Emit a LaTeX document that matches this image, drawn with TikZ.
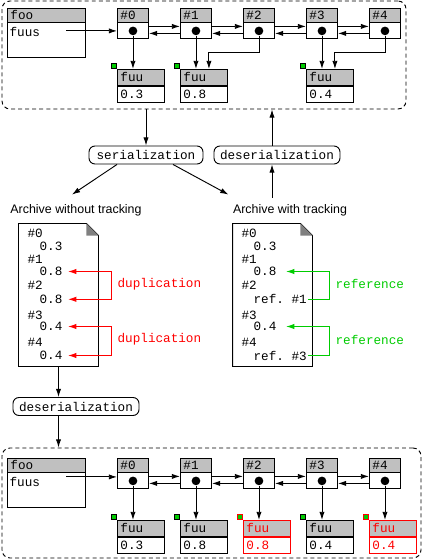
\documentclass[tikz,border=0pt]{standalone}
\usepackage{fontspec}
\setmainfont{Liberation Sans}
\setmonofont{Liberation Mono}
\usepackage{tikz}
\usetikzlibrary{shapes,arrows,arrows.meta,calc,positioning}
\definecolor{hdrgray}{RGB}{192,192,192}
\definecolor{refgreen}{RGB}{0,204,0}
\definecolor{dupred}{RGB}{255,0,0}
\tikzstyle{arrow} = [draw, -{Latex[length=7pt,width=4.5pt]}]
\tikzstyle{mono} = [font=\fontsize{10.8}{13}\selectfont\ttfamily]
\tikzstyle{panel} = [draw, dash pattern=on 3.4pt off 2.6pt, rounded corners=0.24cm, inner sep=0pt]
\tikzstyle{cellhead} = [mono, draw, fill=hdrgray, anchor=north west, text width=0.75cm, align=left, inner xsep=0.09cm, inner ysep=0pt, minimum height=0.42cm]
\tikzstyle{cellbody} = [draw, fill=white, minimum width=0.93cm, minimum height=0.48cm, inner sep=0pt]
\tikzstyle{foohead} = [cellhead, text width=2.16cm]
\tikzstyle{foobody} = [draw, fill=white, minimum width=2.34cm, minimum height=1.05cm, inner sep=0pt]
\tikzstyle{fuuhead} = [cellhead, text width=1.23cm, minimum height=0.48cm]
\tikzstyle{fuubody} = [fuuhead, fill=white]
\tikzstyle{bullet} = [circle, fill=black, minimum size=0.26cm, inner sep=0pt]
\tikzstyle{flagbox} = [draw, fill=refgreen, minimum size=0.15cm, inner sep=0pt, anchor=south east]
\tikzstyle{dupbox} = [draw=dupred, text=dupred]
\tikzstyle{stage} = [mono, draw, rounded corners=0.18cm, minimum height=0.54cm, inner sep=0pt]
\tikzstyle{docpage} = [minimum width=2.37cm, minimum height=4.26cm, inner sep=0pt]
\tikzstyle{docline} = [mono, anchor=west, inner sep=1pt]
\tikzstyle{archlabel} = [font=\fontsize{10.6}{12}\selectfont, inner sep=1pt]
\tikzstyle{dupline} = [draw=dupred, {Latex[length=7pt,width=4.5pt]}-{Latex[length=7pt,width=4.5pt]}]
\tikzstyle{refline} = [draw=refgreen, -{Latex[length=7pt,width=4.5pt]}]
\tikzstyle{note} = [mono, anchor=west, inner sep=1pt]

\begin{document}
\begin{tikzpicture}[x=0.03cm, y=-0.03cm, line width=0.8pt]
      \useasboundingbox (0,0) rectangle (424,559);

      % objects before serialization
      \node[panel, minimum width=12.12cm, minimum height=3.24cm] (panelA) at (204,55) {};
      \node[foohead] (fooAh) at (7,7.5) {foo};
      \node[foobody, below=0pt of fooAh] (fooA) {};
      \node[docline] (fuusA) at (8,32) {fuus};

      \node[cellhead] (tAh0) at (117,7.5) {\#0};
      \node[cellbody, below=0pt of tAh0] (tA0) {};
      \node[bullet] (dA0) at (tA0) {};
      \node[cellhead] (tAh1) at (180,7.5) {\#1};
      \node[cellbody, below=0pt of tAh1] (tA1) {};
      \node[bullet] (dA1) at (tA1) {};
      \node[cellhead] (tAh2) at (243,7.5) {\#2};
      \node[cellbody, below=0pt of tAh2] (tA2) {};
      \node[bullet] (dA2) at (tA2) {};
      \node[cellhead] (tAh3) at (306,7.5) {\#3};
      \node[cellbody, below=0pt of tAh3] (tA3) {};
      \node[bullet] (dA3) at (tA3) {};
      \node[cellhead] (tAh4) at (369,7.5) {\#4};
      \node[cellbody, below=0pt of tAh4] (tA4) {};
      \node[bullet] (dA4) at (tA4) {};

      \node[fuuhead] (fAh0) at (117,69) {fuu};
      \node[fuubody, below=0pt of fAh0] (fA0) {0.3};
      \node[flagbox] (gA0) at (fAh0.north west) {};
      \node[fuuhead] (fAh1) at (180,69) {fuu};
      \node[fuubody, below=0pt of fAh1] (fA1) {0.8};
      \node[flagbox] (gA1) at (fAh1.north west) {};
      \node[fuuhead] (fAh2) at (306,69) {fuu};
      \node[fuubody, below=0pt of fAh2] (fA2) {0.4};
      \node[flagbox] (gA2) at (fAh2.north west) {};

      \draw[arrow] ($(fooA.north west |- tA0)+(59,0)$) -- (tA0);
      \draw[arrow] ($(tA0.east)+(0,-4.5)$) -- ($(tA1.west)+(0,-4.5)$);
      \draw[arrow] ($(tA1.west)+(0,2.5)$) -- ($(tA0.east)+(0,2.5)$);
      \draw[arrow] ($(tA1.east)+(0,-4.5)$) -- ($(tA2.west)+(0,-4.5)$);
      \draw[arrow] ($(tA2.west)+(0,2.5)$) -- ($(tA1.east)+(0,2.5)$);
      \draw[arrow] ($(tA2.east)+(0,-4.5)$) -- ($(tA3.west)+(0,-4.5)$);
      \draw[arrow] ($(tA3.west)+(0,2.5)$) -- ($(tA2.east)+(0,2.5)$);
      \draw[arrow] ($(tA3.east)+(0,-4.5)$) -- ($(tA4.west)+(0,-4.5)$);
      \draw[arrow] ($(tA4.west)+(0,2.5)$) -- ($(tA3.east)+(0,2.5)$);

      \draw[arrow] (dA0) -- (dA0 |- fAh0.north);
      \draw[arrow] (dA1) -- (dA1 |- fAh1.north);
      \draw[arrow] (dA2) -- ++(0,22) -| ($(fAh1.north east)+(-19,0)$);
      \draw[arrow] (dA3) -- (dA3 |- fAh2.north);
      \draw[arrow] (dA4) -- ++(0,22) -| ($(fAh2.north east)+(-19,0)$);

      % serialization / deserialization
      \node[stage, minimum width=3.42cm] (ser) at (146,155) {serialization};
      \node[stage, minimum width=3.78cm] (desA) at (277,155) {deserialization};
      \node[archlabel] (archA) at (76,210) {Archive without tracking};
      \node[archlabel] (archB) at (290,210) {Archive with tracking};

      \draw[arrow] (ser |- panelA.south) -- (ser);
      \draw[arrow] ($(desA.north)+(-5,0)$) -- ($(desA.north |- panelA.south)+(-5,0)$);
      \draw[arrow] ($(desA.south |- archB.north)+(-5,-5)$) -- ($(desA.south)+(-5,0)$);
      \draw[arrow] ($(ser.south)+(-29,0)$) -- ($(archA.north)+(-4,-8)$);
      \draw[arrow] ($(ser.south)+(27,0)$) -- ($(archB.north west)+(-3,-8)$);

      % archive without tracking
      \node[docpage] (docA) at (58.5,295) {};
      \draw (docA.north west) -- ($(docA.north east)+(-12,0)$) -- ($(docA.north east)+(0,12)$) -- (docA.south east) -- (docA.south west) -- cycle;
      \fill[gray] ($(docA.north east)+(-12,0)$) -- ($(docA.north east)+(-12,12)$) -- ($(docA.north east)+(0,12)$) -- cycle;
      \node[docline] (a0) at (26,233.5) {\#0};
      \node[docline] (a0v) at (38,246.5) {0.3};
      \node[docline] (a1) at (26,259) {\#1};
      \node[docline] (a1v) at (38,271.5) {0.8};
      \node[docline] (a2) at (26,285) {\#2};
      \node[docline] (a2v) at (38,299.3) {0.8};
      \node[docline] (a3) at (26,315) {\#3};
      \node[docline] (a3v) at (38,326.5) {0.4};
      \node[docline] (a4) at (26,342.5) {\#4};
      \node[docline] (a4v) at (38,355.5) {0.4};

      \coordinate (dupx) at (111,0);
      \draw[dupline] ($(a1v.east)+(4,0)$) -- (dupx |- a1v) -- (dupx |- a2v) -- ($(a2v.east)+(4,0)$);
      \draw[dupline] ($(a3v.east)+(4,0)$) -- (dupx |- a3v) -- (dupx |- a4v) -- ($(a4v.east)+(4,0)$);
      \node[note, text=dupred] (dupA) at ($(dupx |- a1v)!0.5!(dupx |- a2v)+(5,-1.5)$) {duplication};
      \node[note, text=dupred] (dupB) at ($(dupx |- a3v)!0.5!(dupx |- a4v)+(5,-2)$) {duplication};

      % archive with tracking
      \node[docpage] (docB) at (272.5,295) {};
      \draw (docB.north west) -- ($(docB.north east)+(-12,0)$) -- ($(docB.north east)+(0,12)$) -- (docB.south east) -- (docB.south west) -- cycle;
      \fill[gray] ($(docB.north east)+(-12,0)$) -- ($(docB.north east)+(-12,12)$) -- ($(docB.north east)+(0,12)$) -- cycle;
      \node[docline] (b0) at (240,233.5) {\#0};
      \node[docline] (b0v) at (252,246.5) {0.3};
      \node[docline] (b1) at (240,259) {\#1};
      \node[docline] (b1v) at (252,271.5) {0.8};
      \node[docline] (b2) at (240,285) {\#2};
      \node[docline] (b2v) at (252,299.3) {ref. \#1};
      \node[docline] (b3) at (240,315) {\#3};
      \node[docline] (b3v) at (252,326.5) {0.4};
      \node[docline] (b4) at (240,342.5) {\#4};
      \node[docline] (b4v) at (252,355.5) {ref. \#3};

      \coordinate (refx) at (329,0);
      \draw[refline] (b2v.east) -- (refx |- b2v) -- (refx |- b1v) -- ($(b1v.east)+(8,0)$);
      \draw[refline] (b4v.east) -- (refx |- b4v) -- (refx |- b3v) -- ($(b3v.east)+(8,0)$);
      \node[note, text=refgreen] (refA) at ($(refx |- b1v)!0.5!(refx |- b2v)+(5,-1.5)$) {reference};
      \node[note, text=refgreen] (refB) at ($(refx |- b3v)!0.5!(refx |- b4v)+(5,-1.5)$) {reference};

      % loading the archive without tracking
      \node[stage, minimum width=3.78cm] (desB) at (76,406.5) {deserialization};
      \node[panel, minimum width=12.57cm, minimum height=3.3cm] (panelB) at (211.5,503) {};
      \draw[arrow] (docA.south) -- (docA.south |- desB.north);
      \draw[arrow] (docA.south |- desB.south) -- (docA.south |- panelB.north);

      \node[foohead] (fooBh) at (7,457.5) {foo};
      \node[foobody, below=0pt of fooBh] (fooB) {};
      \node[docline] (fuusB) at (8,482) {fuus};

      \node[cellhead] (tBh0) at (117,457.5) {\#0};
      \node[cellbody, below=0pt of tBh0] (tB0) {};
      \node[bullet] (dB0) at (tB0) {};
      \node[cellhead] (tBh1) at (180,457.5) {\#1};
      \node[cellbody, below=0pt of tBh1] (tB1) {};
      \node[bullet] (dB1) at (tB1) {};
      \node[cellhead] (tBh2) at (243,457.5) {\#2};
      \node[cellbody, below=0pt of tBh2] (tB2) {};
      \node[bullet] (dB2) at (tB2) {};
      \node[cellhead] (tBh3) at (306,457.5) {\#3};
      \node[cellbody, below=0pt of tBh3] (tB3) {};
      \node[bullet] (dB3) at (tB3) {};
      \node[cellhead] (tBh4) at (369,457.5) {\#4};
      \node[cellbody, below=0pt of tBh4] (tB4) {};
      \node[bullet] (dB4) at (tB4) {};

      \node[fuuhead] (fBh0) at (117,520) {fuu};
      \node[fuubody, below=0pt of fBh0] (fB0) {0.3};
      \node[flagbox] (gB0) at (fBh0.north west) {};
      \node[fuuhead] (fBh1) at (180,520) {fuu};
      \node[fuubody, below=0pt of fBh1] (fB1) {0.8};
      \node[flagbox] (gB1) at (fBh1.north west) {};
      \node[fuuhead, dupbox] (fBh2) at (243,520) {fuu};
      \node[fuubody, dupbox, below=0pt of fBh2] (fB2) {0.8};
      \node[flagbox, draw=dupred] (gB2) at (fBh2.north west) {};
      \node[fuuhead] (fBh3) at (306,520) {fuu};
      \node[fuubody, below=0pt of fBh3] (fB3) {0.4};
      \node[flagbox] (gB3) at (fBh3.north west) {};
      \node[fuuhead, dupbox] (fBh4) at (369,520) {fuu};
      \node[fuubody, dupbox, below=0pt of fBh4] (fB4) {0.4};
      \node[flagbox, draw=dupred] (gB4) at (fBh4.north west) {};

      \draw[arrow] ($(fooB.north west |- tB0)+(59,-4)$) -- ($(tB0.west)+(0,-4)$);
      \draw[arrow] ($(tB0.east)+(0,-4.5)$) -- ($(tB1.west)+(0,-4.5)$);
      \draw[arrow] ($(tB1.west)+(0,2.5)$) -- ($(tB0.east)+(0,2.5)$);
      \draw[arrow] ($(tB1.east)+(0,-4.5)$) -- ($(tB2.west)+(0,-4.5)$);
      \draw[arrow] ($(tB2.west)+(0,2.5)$) -- ($(tB1.east)+(0,2.5)$);
      \draw[arrow] ($(tB2.east)+(0,-4.5)$) -- ($(tB3.west)+(0,-4.5)$);
      \draw[arrow] ($(tB3.west)+(0,2.5)$) -- ($(tB2.east)+(0,2.5)$);
      \draw[arrow] ($(tB3.east)+(0,-4.5)$) -- ($(tB4.west)+(0,-4.5)$);
      \draw[arrow] ($(tB4.west)+(0,2.5)$) -- ($(tB3.east)+(0,2.5)$);

      \draw[arrow] (dB0) -- (dB0 |- fBh0.north);
      \draw[arrow] (dB1) -- (dB1 |- fBh1.north);
      \draw[arrow] (dB2) -- (dB2 |- fBh2.north);
      \draw[arrow] (dB3) -- (dB3 |- fBh3.north);
      \draw[arrow] (dB4) -- (dB4 |- fBh4.north);
    \end{tikzpicture}
\end{document}
